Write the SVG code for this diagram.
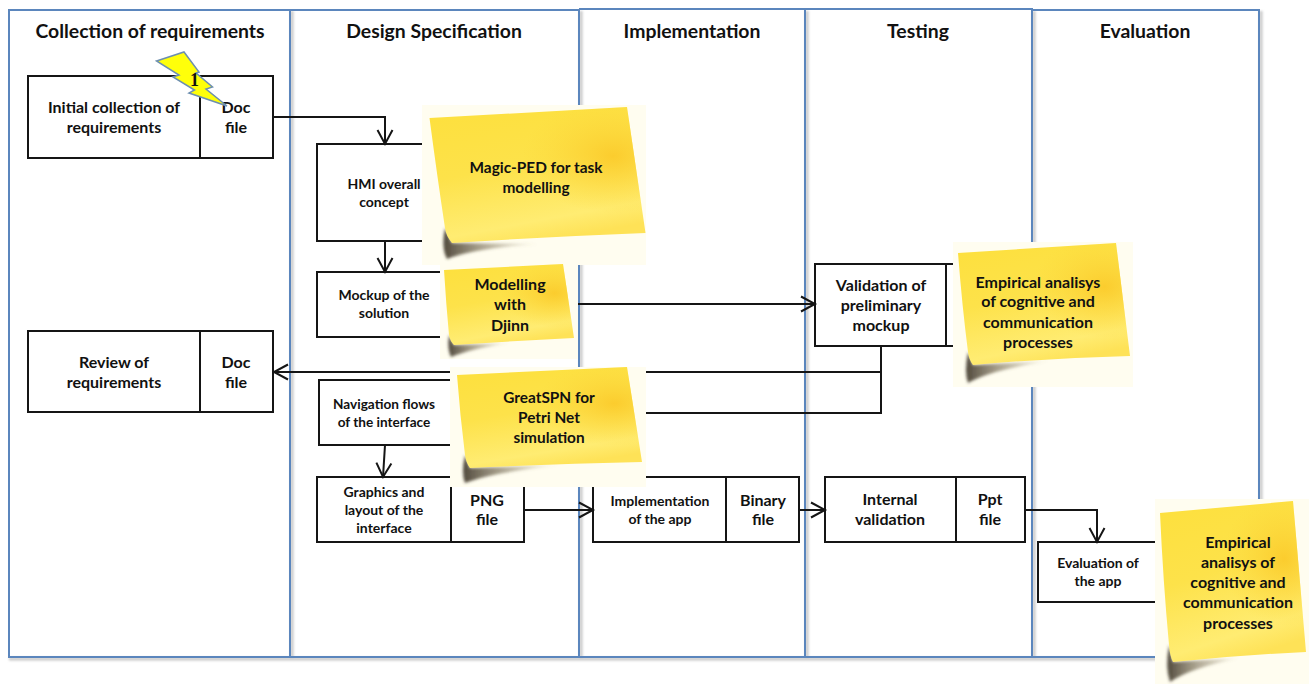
<svg xmlns="http://www.w3.org/2000/svg" width="1309" height="684" viewBox="0 0 1309 684">
<style>
text{font-family:"Lato","Liberation Sans",sans-serif;font-weight:700;fill:#111;text-anchor:middle}
.title{font-size:19.4px}
.b{font-size:16px}
.s{font-size:14px}
.n{font-size:16px}
.n2{font-size:15.4px}
.box{fill:#fff;stroke:#151515;stroke-width:2}
.div{fill:none;stroke:#151515;stroke-width:2}
.lane{fill:none;stroke:#5b86bd;stroke-width:2}
.laneS{fill:none;stroke:#c8c8c8;stroke-width:3;filter:url(#soft)}
.c{fill:none;stroke:#151515;stroke-width:2}
.a{marker-end:url(#arr)}
.bg{fill:#fffdf0}
.shadow{fill:url(#shade);filter:url(#blur)}
.p1{fill:url(#paper)}
.p2{fill:url(#glow)}
</style>
<defs>
<filter id="soft" x="-20%" y="-20%" width="140%" height="140%"><feGaussianBlur stdDeviation="1.2"/></filter>
<filter id="blur" x="-20%" y="-30%" width="140%" height="160%"><feGaussianBlur stdDeviation="1.800"/></filter>
<linearGradient id="shade" x1="0" y1="0" x2="1" y2="0">
<stop offset="0" stop-color="#3c3428" stop-opacity=".9"/><stop offset=".45" stop-color="#6b5f45" stop-opacity=".5"/><stop offset="1" stop-color="#8a7a50" stop-opacity="0"/>
</linearGradient>
<linearGradient id="paper" x1="0.2" y1="0" x2="0.5" y2="1">
<stop offset="0" stop-color="#fde03e"/><stop offset=".45" stop-color="#fde24a"/><stop offset=".85" stop-color="#ffec72"/><stop offset="1" stop-color="#fee257"/>
</linearGradient>
<radialGradient id="glow" cx=".85" cy=".36" r=".42">
<stop offset="0" stop-color="#fbcb2c" stop-opacity=".95"/><stop offset="1" stop-color="#fcd83a" stop-opacity="0"/>
</radialGradient>
<marker id="arr" markerUnits="userSpaceOnUse" markerWidth="18" markerHeight="20" refX="15" refY="9" orient="auto">
<path d="M1 1.500L15 9L1 16.500" fill="none" stroke="#151515" stroke-width="2"/>
</marker>
</defs>
<rect width="1309" height="684" fill="#fff"/>

<g id="lanes">
<path class="laneS" d="M9 659H1259M292 11V657M581 11V657M807 11V657M1034 11V657M1261 11V657"/>
<path class="lane" d="M9 10H579V657H9ZM290 10V657M579 9H1032V657H579M805 9V657M1032 10H1259V657H1032"/>
</g>

<g id="node-initial">
<rect class="box" x="28" y="76" width="245" height="82"/><path class="div" d="M200 76V158"/>
<text class="b" x="114" y="113">Initial collection of</text><text class="b" x="114" y="133">requirements</text>
<text class="b" x="236" y="113">Doc</text><text class="b" x="236" y="133">file</text>
</g>
<g id="node-hmi">
<rect class="box" x="317" y="144" width="140" height="97"/>
<text class="s" x="384" y="189">HMI overall</text><text class="s" x="384" y="207">concept</text>
</g>
<g id="node-mockup">
<rect class="box" x="317" y="272" width="140" height="65"/>
<text class="s" x="384" y="300">Mockup of the</text><text class="s" x="384" y="318">solution</text>
</g>
<g id="node-review">
<rect class="box" x="28" y="331" width="245" height="81"/><path class="div" d="M200 331V412"/>
<text class="b" x="114" y="368">Review of</text><text class="b" x="114" y="388">requirements</text>
<text class="b" x="236" y="368">Doc</text><text class="b" x="236" y="388">file</text>
</g>
<g id="node-navigation">
<rect class="box" x="319" y="380" width="145" height="65"/>
<text class="s" x="384" y="409" style="font-size:13.6px">Navigation flows</text><text class="s" x="384" y="427" style="font-size:13.6px">of the interface</text>
</g>
<g id="node-graphics">
<rect class="box" x="317" y="477" width="207" height="65"/><path class="div" d="M451 477V542"/>
<text class="s" x="384" y="497">Graphics and</text><text class="s" x="384" y="515">layout of the</text><text class="s" x="384" y="533">interface</text>
<text class="b" x="487" y="506">PNG</text><text class="b" x="487" y="525">file</text>
</g>
<g id="node-implementation">
<rect class="box" x="593" y="477" width="206" height="65"/><path class="div" d="M726 477V542"/>
<text class="s" x="660" y="506">Implementation</text><text class="s" x="660" y="524">of the app</text>
<text class="b" x="763" y="506">Binary</text><text class="b" x="763" y="525">file</text>
</g>
<g id="node-validation">
<path class="box" d="M953 264H815V346H953"/><path class="div" d="M946 264V346"/>
<text class="b" x="881" y="291">Validation of</text><text class="b" x="881" y="311">preliminary</text><text class="b" x="881" y="331">mockup</text>
</g>
<g id="node-internal">
<rect class="box" x="825" y="477" width="200" height="65"/><path class="div" d="M956 477V542"/>
<text class="b" x="890" y="505">Internal</text><text class="b" x="890" y="525">validation</text>
<text class="b" x="990" y="505">Ppt</text><text class="b" x="990" y="525">file</text>
</g>
<g id="node-evaluation">
<path class="box" d="M1160 542H1038V602H1160"/>
<text class="s" x="1098" y="568">Evaluation of</text><text class="s" x="1098" y="586">the app</text>
</g>

<g id="connectors">
<path class="c a" d="M273 117H385V144"/>
<path class="c a" d="M385 241V272"/>
<path class="c a" d="M577 304H815"/>
<path class="c a" d="M881 346V372H274"/>
<path class="c" d="M881 372V413H620"/>
<path class="c a" d="M385 445L383 477"/>
<path class="c a" d="M524 510H593"/>
<path class="c a" d="M799 510H825"/>
<path class="c a" d="M1025 510H1097V542"/>
</g>

<g id="lane-titles">
<text class="title" x="150" y="38">Collection of requirements</text>
<text class="title" x="434" y="38">Design Specification</text>
<text class="title" x="692" y="38">Implementation</text>
<text class="title" x="918" y="38">Testing</text>
<text class="title" x="1145" y="38">Evaluation</text>
</g>

<g id="note-magic">
<rect class="bg" x="422" y="105" width="224" height="160"/>
<path class="shadow" d="M445 228Q441 248 447 259Q475 248 540 244L452 243Z"/>
<path class="p1" d="M429.500 118L627 107L645.500 233Q545 237 452 243Q446 236 445 228Q437 175 429.500 118Z"/>
<path class="p2" d="M429.500 118L627 107L645.500 233Q545 237 452 243Q446 236 445 228Q437 175 429.500 118Z"/>
<text class="n2" x="536" y="173">Magic-PED for task</text><text class="n2" x="536" y="193">modelling</text>
</g>
<g id="note-djinn">
<rect class="bg" x="440" y="265" width="138" height="94"/>
<path class="shadow" d="M449 335Q447 349 451 357Q470 349 510 343L454 345Z"/>
<path class="p1" d="M444 270L563 264L574 338Q512 341 454 345Q450 341 449 335Q446 303 444 270Z"/>
<path class="p2" d="M444 270L563 264L574 338Q512 341 454 345Q450 341 449 335Q446 303 444 270Z"/>
<text class="n" x="510" y="290">Modelling</text><text class="n" x="510" y="310">with</text><text class="n" x="510" y="331">Djinn</text>
</g>
<g id="note-greatspn">
<rect class="bg" x="450" y="367" width="196" height="120"/>
<path class="shadow" d="M465 455Q461 473 465 483Q490 473 560 465L470 468Z"/>
<path class="p1" d="M457 375L627 367L642 462Q555 464 470 468Q466 463 465 455Q460 415 457 375Z"/>
<path class="p2" d="M457 375L627 367L642 462Q555 464 470 468Q466 463 465 455Q460 415 457 375Z"/>
<text class="n2" x="549" y="403">GreatSPN for</text><text class="n2" x="549" y="423">Petri Net</text><text class="n2" x="549" y="443">simulation</text>
</g>
<g id="note-empirical-1">
<rect class="bg" x="953" y="242" width="180" height="145"/>
<path class="shadow" d="M968 352Q964 372 968 383Q990 370 1050 361L973 365Z"/>
<path class="p1" d="M958 253L1116 243L1130 356Q1050 358 973 365Q969 360 968 352Q962 305 958 253Z"/>
<path class="p2" d="M958 253L1116 243L1130 356Q1050 358 973 365Q969 360 968 352Q962 305 958 253Z"/>
<text class="n" x="1038" y="288">Empirical analisys</text><text class="n" x="1038" y="307">of cognitive and</text><text class="n" x="1038" y="328">communication</text><text class="n" x="1038" y="348">processes</text>
</g>
<g id="note-empirical-2">
<rect class="bg" x="1155" y="499" width="154" height="185"/>
<path class="shadow" d="M1169 645Q1165 668 1170 682Q1190 668 1240 658L1173 662Z"/>
<path class="p1" d="M1160 513L1293 501L1306 652Q1240 655 1173 662Q1170 657 1169 645Q1163 580 1160 513Z"/>
<path class="p2" d="M1160 513L1293 501L1306 652Q1240 655 1173 662Q1170 657 1169 645Q1163 580 1160 513Z"/>
<text class="n" x="1238" y="548">Empirical</text><text class="n" x="1238" y="568">analisys of</text><text class="n" x="1238" y="588">cognitive and</text><text class="n" x="1238" y="608">communication</text><text class="n" x="1238" y="629">processes</text>
</g>

<g id="marker-1">
<path d="M156.500 61L184 52L199 72L196 73L212.500 87L206 89L227 106L189 93L194.500 90L173 77L179 75Z" fill="#ffff0a" stroke="#6d8fb0" stroke-width="1.500"/>
<text x="194.500" y="86" style="font-family:'Liberation Serif',serif;font-size:18px;font-weight:700">1</text>
</g>
</svg>
